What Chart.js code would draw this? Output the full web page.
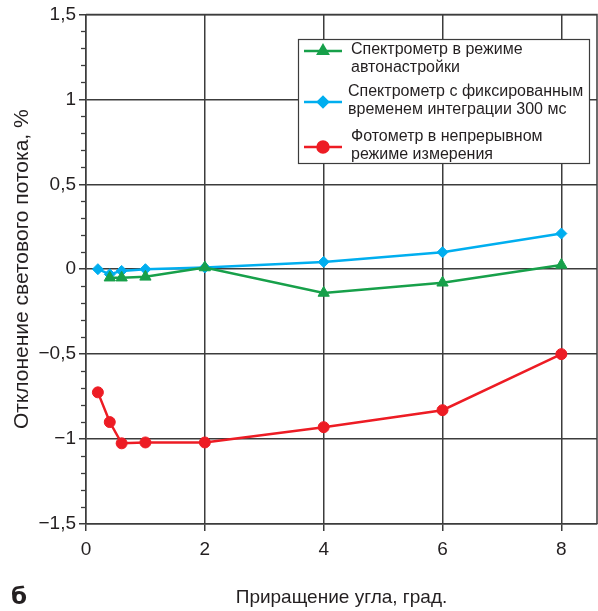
<!DOCTYPE html>
<html>
<head>
<meta charset="utf-8">
<script src="https://cdn.jsdelivr.net/npm/chart.js@4.4.1/dist/chart.umd.min.js"></script>
<style>
  html, body { margin: 0; padding: 0; background: #fff; }
  #wrap { position: relative; width: 598px; height: 611px; }
  #panel {
    position: absolute; left: 11px; top: 583px;
    font: bold 23px "DejaVu Sans", sans-serif; color: #231f20;
  }
</style>
</head>
<body>
<div id="wrap">
  <canvas id="chart" width="598" height="611"></canvas>
  <div id="panel">б</div>
</div>
<script>
// Angle increment, degrees
const xAuto = [0.4, 0.6, 1, 2, 4, 6, 8];
const xFixed = [0.2, 0.4, 0.6, 1, 2, 4, 6, 8];
const xPhoto = [0.2, 0.4, 0.6, 1, 2, 4, 6, 8];

// Luminous flux deviation, %
const yAuto = [-0.05, -0.05, -0.045, 0.01, -0.14, -0.08, 0.025];
const yFixed = [0, -0.03, -0.01, 0, 0.01, 0.043, 0.10, 0.21];
const yPhoto = [-0.725, -0.90, -1.025, -1.02, -1.02, -0.93, -0.83, -0.5];

const seriesNames = [
  ['Спектрометр в режиме', 'автонастройки'],
  ['Спектрометр с фиксированным', 'временем интеграции 300 мс'],
  ['Фотометр в непрерывном', 'режиме измерения']
];
const seriesColors = ['#17a04a', '#00aeef', '#ed1c24'];
const seriesMarkers = ['triangle', 'rectRot', 'circle'];

const yTickLabels = { '1.5': '1,5', '1': '1', '0.5': '0,5', '0': '0', '-0.5': '−0,5', '-1': '−1', '-1.5': '−1,5' };

const FONT = '"Liberation Sans", Arial, sans-serif';
const INK = '#231f20';
const GRID = '#3c3c3c';

const toPoints = (xs, ys) => xs.map((x, i) => ({ x: x, y: ys[i] }));

// Minor ticks on the value axis, plus a closing frame round the plot
const framePlugin = {
  id: 'frame',
  afterDraw(chart) {
    const { ctx, chartArea, scales } = chart;
    ctx.save();
    ctx.strokeStyle = GRID;
    ctx.lineWidth = 1.3;
    for (let i = -15; i <= 15; i++) {
      if (i % 5 === 0) continue;
      const py = Math.round(scales.y.getPixelForValue(i / 10)) + 0.5;
      ctx.beginPath();
      ctx.moveTo(chartArea.left - 5, py);
      ctx.lineTo(chartArea.left, py);
      ctx.stroke();
    }
    ctx.lineWidth = 1.5;
    ctx.beginPath();
    ctx.moveTo(chartArea.left, chartArea.top);
    ctx.lineTo(chartArea.right, chartArea.top);
    ctx.lineTo(chartArea.right, chartArea.bottom);
    ctx.stroke();
    ctx.restore();
  }
};

// Boxed legend with two-line entries
const legendPlugin = {
  id: 'boxLegend',
  afterDatasetsDraw(chart) {
    const ctx = chart.ctx;
    const box = { x: 298.5, y: 39.5, w: 291, h: 124 };
    const rowY = [51, 102, 147];
    const textY = [[50, 68], [92, 110], [137, 155]];
    const textX = [351, 348, 351];
    ctx.save();
    ctx.fillStyle = '#fff';
    ctx.fillRect(box.x, box.y, box.w, box.h);
    ctx.strokeStyle = GRID;
    ctx.lineWidth = 1.2;
    ctx.strokeRect(box.x, box.y, box.w, box.h);
    seriesNames.forEach((lines, i) => {
      ctx.strokeStyle = seriesColors[i];
      ctx.lineWidth = 2.5;
      ctx.beginPath();
      ctx.moveTo(304, rowY[i]);
      ctx.lineTo(342, rowY[i]);
      ctx.stroke();
      ctx.fillStyle = seriesColors[i];
      Chart.helpers.drawPoint(ctx, {
        pointStyle: seriesMarkers[i],
        radius: i === 1 ? 5 : 5.5,
        borderWidth: 1
      }, 323, rowY[i]);
      ctx.fillStyle = INK;
      ctx.font = '16px ' + FONT;
      ctx.textBaseline = 'middle';
      ctx.textAlign = 'left';
      lines.forEach((t, k) => ctx.fillText(t, textX[i], textY[i][k]));
    });
    ctx.restore();
  }
};

const makeSet = (i, pts, r) => ({
  label: seriesNames[i].join(' '),
  data: pts,
  borderColor: seriesColors[i],
  backgroundColor: seriesColors[i],
  borderWidth: 2.5,
  pointStyle: seriesMarkers[i],
  pointRadius: r,
  pointBorderWidth: 1,
  pointHoverRadius: r,
  tension: 0
});

new Chart(document.getElementById('chart'), {
  type: 'line',
  data: {
    datasets: [
      makeSet(0, toPoints(xAuto, yAuto), 6.5),
      makeSet(1, toPoints(xFixed, yFixed), 5.5),
      makeSet(2, toPoints(xPhoto, yPhoto), 5.5)
    ]
  },
  options: {
    responsive: false,
    animation: false,
    layout: { autoPadding: false, padding: { top: 14, right: 1, left: 0, bottom: 0 } },
    plugins: { legend: { display: false }, tooltip: { enabled: false } },
    scales: {
      x: {
        type: 'linear',
        min: 0,
        max: 8.6,
        afterFit(scale) { scale.height = 87; },
        ticks: {
          stepSize: 2,
          includeBounds: false,
          color: INK,
          font: { family: FONT, size: 19 },
          padding: 7,
          maxRotation: 0
        },
        grid: { color: GRID, lineWidth: 1.5, tickLength: 7 },
        border: { color: GRID, width: 1.5 },
        title: {
          display: true,
          text: 'Приращение угла, град.',
          color: INK,
          font: { family: FONT, size: 19 },
          padding: { bottom: 2 }
        }
      },
      y: {
        min: -1.5,
        max: 1.5,
        afterFit(scale) { scale.width = 86; },
        ticks: {
          stepSize: 0.5,
          color: INK,
          font: { family: FONT, size: 19 },
          padding: 3,
          callback: v => yTickLabels[String(v)]
        },
        grid: { color: GRID, lineWidth: 1.5, tickLength: 7 },
        border: { color: GRID, width: 1.5 },
        title: {
          display: true,
          text: 'Отклонение светового потока, %',
          color: INK,
          font: { family: FONT, size: 21 },
          padding: { top: 10 }
        }
      }
    }
  },
  plugins: [framePlugin, legendPlugin]
});
</script>
</body>
</html>
